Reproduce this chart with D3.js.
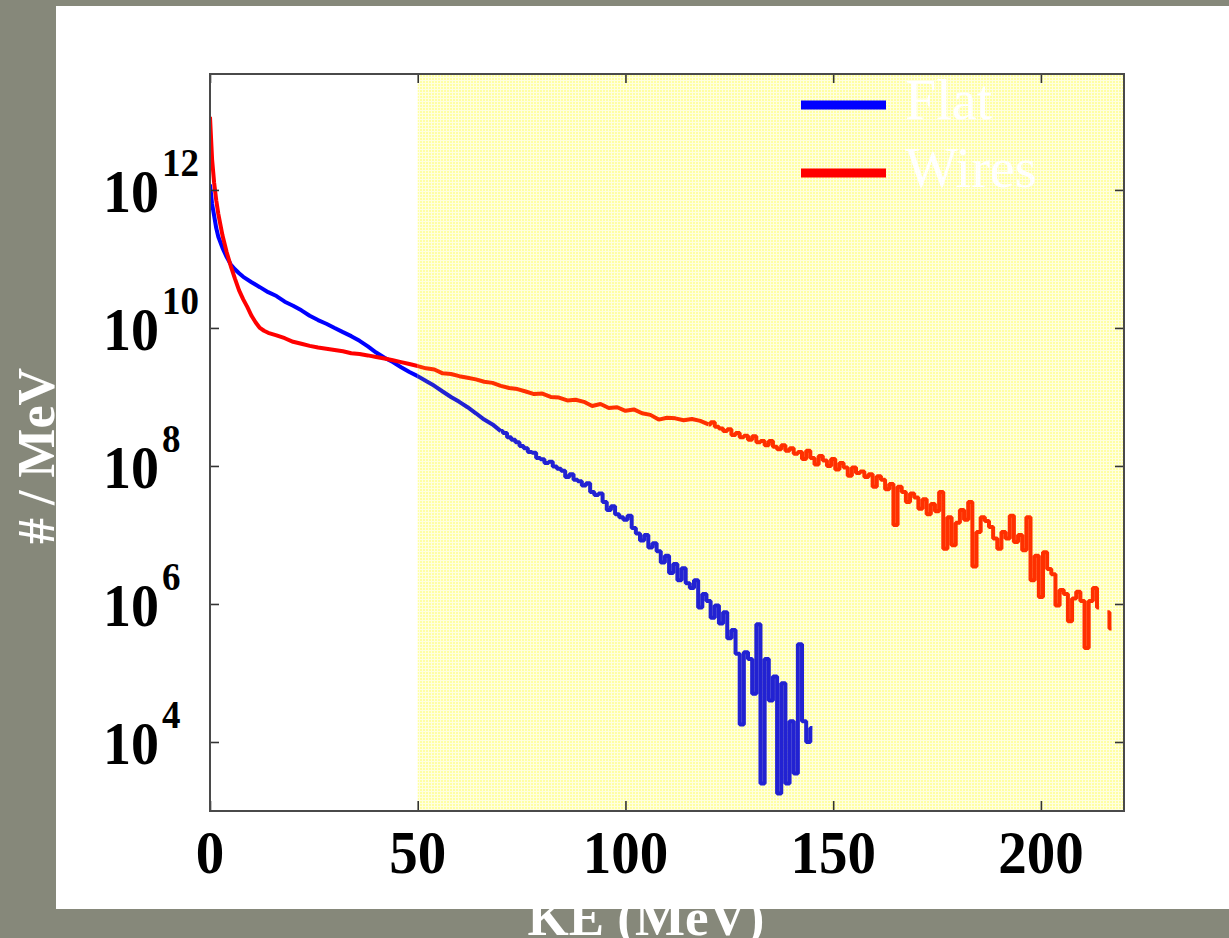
<!DOCTYPE html>
<html>
<head>
<meta charset="utf-8">
<script src="https://cdn.jsdelivr.net/npm/d3@7"></script>
<style>
  body { margin: 0; background: #86887a; }
  svg { display: block; }
</style>
</head>
<body>
<svg id="chart" width="1229" height="938"></svg>
<script>
// Proton spectra (# / MeV) versus kinetic energy for two target types
const flatKE = [0, 0.5, 1, 1.5, 2, 3, 4, 5, 6, 7, 8, 10, 12, 14, 16, 18, 20, 22, 24, 26, 28, 30, 32, 34, 36, 38, 40, 42, 44, 46, 48, 50, 52, 54, 56, 58, 60, 62, 64, 66, 68, 70,
  71, 72, 73, 74, 75, 76, 77, 78, 79, 80, 81, 82, 83, 84, 85, 86, 87, 88, 89, 90, 91, 92, 93, 94, 95, 96, 97, 98, 99, 100,
  101, 102, 103, 104, 105, 106, 107, 108, 109, 110, 111, 112, 113, 114, 115, 116, 117, 118, 119, 120,
  121, 122, 123, 124, 125, 126, 127, 128, 129, 130, 131, 132, 133, 134, 135, 136, 137, 138, 139, 140, 141, 142, 143, 144, 145];
const flatCounts = [1.2e12, 6.3e11, 4.2e11, 2.8e11, 2.1e11, 1.45e11, 1.07e11, 8.3e10, 7.1e10, 6.2e10, 5.5e10, 4.6e10, 3.9e10, 3.3e10, 2.9e10, 2.4e10, 2.1e10, 1.8e10, 1.5e10, 1.3e10, 1.15e10, 1.0e10, 8.7e9, 7.6e9, 6.5e9, 5.4e9, 4.4e9, 3.7e9, 3.2e9, 2.7e9, 2.3e9, 2.0e9, 1.7e9, 1.45e9, 1.2e9, 1.0e9, 8.5e8, 7.1e8, 5.8e8, 4.7e8, 4.0e8, 3.2e8,
  3.0e8, 2.6e8, 2.4e8, 2.2e8, 1.95e8, 1.8e8, 1.6e8, 1.55e8, 1.3e8, 1.25e8, 1.1e8, 1.15e8, 9.8e7, 9.1e7, 8.5e7, 6.9e7, 7.6e7, 6.3e7, 6.0e7, 5.2e7, 5.6e7, 4.2e7, 3.8e7, 4.0e7, 3.0e7, 2.3e7, 2.6e7, 2.0e7, 1.8e7, 1.66e7,
  1.9e7, 1.26e7, 1.05e7, 8.3e6, 1.0e7, 6.6e6, 7.6e6, 5.8e6, 4.0e6, 5.0e6, 2.8e6, 3.8e6, 2.2e6, 3.3e6, 2.0e6, 1.7e6, 2.2e6, 8.9e5, 1.4e6, 1.1e6,
  6.3e5, 9.5e5, 5.2e5, 7.6e5, 3.2e5, 4.2e5, 1.9e5, 1.8e4, 2.0e5, 1.6e5, 5.0e4, 5.1e5, 2.5e3, 1.6e5, 4.0e4, 8.9e4, 1.8e3, 7.1e4, 2.5e3, 2.0e4, 3.5e3, 2.6e5, 2.0e4, 1.0e4, 1.6e4];

const wiresKE = [0, 0.5, 1, 1.5, 2, 3, 4, 5, 6, 7, 8, 9, 10, 11, 12, 13, 14, 16, 18, 20, 22, 24, 26, 28, 30, 32, 34, 36, 38, 40, 42, 44, 46, 48, 50,
  52, 54, 56, 58, 60, 62, 64, 66, 68, 70, 72, 74, 76, 78, 80, 82, 84, 86, 88, 90, 92, 94, 96, 98, 100, 102, 104, 106, 108, 110, 112, 114, 116, 118, 120,
  121, 122, 123, 124, 125, 126, 127, 128, 129, 130, 131, 132, 133, 134, 135, 136, 137, 138, 139, 140, 141, 142, 143, 144, 145, 146, 147, 148, 149, 150,
  151, 152, 153, 154, 155, 156, 157, 158, 159, 160, 161, 162, 163, 164, 165, 166, 167, 168, 169, 170, 171, 172, 173, 174, 175, 176, 177, 178, 179, 180,
  181, 182, 183, 184, 185, 186, 187, 188, 189, 190, 191, 192, 193, 194, 195, 196, 197, 198, 199, 200, 201, 202, 203, 204, 205, 206, 207, 208, 209, 210,
  211, 212, 213, 214, 215, 216, 217];
const wiresCounts = [1.15e13, 2.8e12, 1.26e12, 7.1e11, 4.5e11, 2.2e11, 1.26e11, 7.9e10, 5.2e10, 3.5e10, 2.6e10, 2.0e10, 1.5e10, 1.2e10, 1.0e10, 9.1e9, 8.5e9, 7.8e9, 7.1e9, 6.3e9, 5.9e9, 5.5e9, 5.2e9, 5.0e9, 4.8e9, 4.6e9, 4.3e9, 4.2e9, 4.0e9, 3.8e9, 3.6e9, 3.4e9, 3.2e9, 3.0e9, 2.8e9,
  2.6e9, 2.5e9, 2.2e9, 2.15e9, 2.0e9, 1.9e9, 1.8e9, 1.66e9, 1.6e9, 1.45e9, 1.35e9, 1.3e9, 1.2e9, 1.1e9, 1.12e9, 1.0e9, 9.8e8, 8.9e8, 9.1e8, 8.5e8, 7.4e8, 7.9e8, 6.9e8, 7.1e8, 6.3e8, 6.6e8, 5.8e8, 5.5e8, 4.7e8, 5.0e8, 4.9e8, 4.6e8, 4.8e8, 4.5e8, 4.0e8,
  4.3e8, 3.7e8, 3.5e8, 3.2e8, 3.4e8, 2.8e8, 3.0e8, 2.6e8, 2.75e8, 2.4e8, 2.7e8, 2.2e8, 2.3e8, 2.0e8, 2.3e8, 1.9e8, 1.74e8, 2.0e8, 1.66e8, 1.8e8, 1.5e8, 1.6e8, 1.26e8, 1.66e8, 1.3e8, 1.05e8, 1.4e8, 1.2e8, 1.0e8, 1.26e8,
  8.9e7, 1.1e8, 9.5e7, 7.2e7, 9.5e7, 7.9e7, 8.3e7, 6.9e7, 7.6e7, 5.0e7, 7.1e7, 6.3e7, 4.6e7, 5.5e7, 1.4e7, 5.0e7, 4.2e7, 3.0e7, 4.0e7, 3.5e7, 2.4e7, 3.3e7, 2.0e7, 2.8e7, 2.2e7, 4.2e7, 6.3e6, 1.8e7, 7.1e6, 1.5e7,
  2.3e7, 1.66e7, 3.0e7, 3.5e6, 1.1e7, 1.8e7, 1.6e7, 1.3e7, 8.9e6, 6.3e6, 1.1e7, 8.9e6, 1.9e7, 7.9e6, 1.0e7, 6.0e6, 1.8e7, 2.2e6, 5.0e6, 1.26e6, 5.6e6, 3.2e6, 2.7e6, 9.5e5, 1.6e6, 1.4e6, 5.6e5, 1.2e6, 1.5e6, 1.1e6,
  2.3e5, 1.1e6, 1.7e6, 8.9e5, null, 7.6e5, 4.4e5];

const xTicks = [0, 50, 100, 150, 200];
const yTickExponents = [4, 6, 8, 10, 12];
const seriesNames = ["Flat", "Wires"];
const highlightFrom = 50; // shaded energy window starts here

const W = 1229, H = 938;
const plot = { left: 210, right: 1124, top: 74, bottom: 811 };
const serif = "'Liberation Serif', 'Times New Roman', Times, serif";

const x = d3.scaleLinear().domain([0, 220]).range([plot.left, plot.right]);
const y = d3.scaleLog().domain([1e3, Math.pow(10, 13.68)]).range([plot.bottom, plot.top]);

const svg = d3.select("#chart");
const defs = svg.append("defs");

// fine yellow mesh used for the shaded window
const pat = defs.append("pattern").attr("id", "mesh")
  .attr("patternUnits", "userSpaceOnUse").attr("width", 3).attr("height", 3);
pat.append("rect").attr("width", 3).attr("height", 3).attr("fill", "#ffffe0");
pat.append("rect").attr("width", 2).attr("height", 2).attr("fill", "#ffffa4");

defs.append("clipPath").attr("id", "clipPlain").append("rect")
  .attr("x", plot.left).attr("y", plot.top)
  .attr("width", x(highlightFrom) - plot.left).attr("height", plot.bottom - plot.top);
defs.append("clipPath").attr("id", "clipShaded").append("rect")
  .attr("x", x(highlightFrom)).attr("y", plot.top)
  .attr("width", plot.right - x(highlightFrom)).attr("height", plot.bottom - plot.top);

// grey backdrop
svg.append("rect").attr("width", W).attr("height", H).attr("fill", "#86887a");

// axis titles live on the grey frame, partly tucked under the white card
svg.append("text")
  .attr("transform", "translate(54,456) rotate(-90)")
  .attr("text-anchor", "middle")
  .attr("font-family", serif).attr("font-weight", "bold").attr("font-size", 52)
  .attr("fill", "#ffffff")
  .text("# / MeV");
svg.append("text")
  .attr("x", 646).attr("y", 935)
  .attr("text-anchor", "middle")
  .attr("font-family", serif).attr("font-weight", "bold").attr("font-size", 53)
  .attr("fill", "#ffffff")
  .text("KE (MeV)");

// white card
svg.append("rect").attr("x", 56).attr("y", 6).attr("width", W - 56).attr("height", 903).attr("fill", "#ffffff");

// shaded window
svg.append("rect")
  .attr("x", x(highlightFrom)).attr("y", plot.top)
  .attr("width", plot.right - x(highlightFrom)).attr("height", plot.bottom - plot.top)
  .attr("fill", "url(#mesh)");

// spectra: the smooth bulk is joined linearly, the sparse 1-MeV tail as a histogram
const series = [
  { name: seriesNames[0], ke: flatKE, counts: flatCounts, tailFrom: 70, color: "#0000ff", shaded: "#2222d2" },
  { name: seriesNames[1], ke: wiresKE, counts: wiresCounts, tailFrom: 120, color: "#ff0000", shaded: "#ff3000" }
];
const bulkLine = d3.line()
  .defined(d => d[1] != null)
  .x(d => x(d[0])).y(d => y(d[1]))
  .curve(d3.curveLinear);
const tailLine = d3.line()
  .defined(d => d[1] != null)
  .x(d => x(d[0])).y(d => y(d[1]))
  .curve(d3.curveStep);

series.forEach(s => {
  const pts = s.ke.map((k, i) => [k, s.counts[i]]);
  const bulk = pts.filter(p => p[0] <= s.tailFrom);
  const tail = pts.filter(p => p[0] >= s.tailFrom);
  [["clipPlain", s.color], ["clipShaded", s.shaded]].forEach(([clip, col]) => {
    [[bulk, bulkLine], [tail, tailLine]].forEach(([data, gen]) => {
      svg.append("path")
        .datum(data)
        .attr("clip-path", `url(#${clip})`)
        .attr("fill", "none")
        .attr("stroke", col)
        .attr("stroke-width", 4)
        .attr("stroke-linejoin", "bevel")
        .attr("d", gen);
    });
  });
});

// frame and inward ticks
const yTickVals = yTickExponents.map(e => Math.pow(10, e));
const tickStyle = g => {
  g.select(".domain").remove();
  g.selectAll(".tick line").attr("stroke", "#333").attr("stroke-width", 1.6);
  g.selectAll(".tick text").remove();
};
svg.append("g").attr("transform", `translate(0,${plot.bottom})`)
  .call(d3.axisBottom(x).tickValues(xTicks).tickSize(-10)).call(tickStyle);
svg.append("g").attr("transform", `translate(0,${plot.top})`)
  .call(d3.axisTop(x).tickValues(xTicks).tickSize(-9)).call(tickStyle);
svg.append("g").attr("transform", `translate(${plot.left},0)`)
  .call(d3.axisLeft(y).tickValues(yTickVals).tickSize(-9)).call(tickStyle);
svg.append("g").attr("transform", `translate(${plot.right},0)`)
  .call(d3.axisRight(y).tickValues(yTickVals).tickSize(-9)).call(tickStyle);

svg.append("rect")
  .attr("x", plot.left).attr("y", plot.top)
  .attr("width", plot.right - plot.left).attr("height", plot.bottom - plot.top)
  .attr("fill", "none").attr("stroke", "#4a4a4a").attr("stroke-width", 2);

// tick labels
const xLab = svg.append("g");
xTicks.forEach(t => {
  xLab.append("text")
    .attr("transform", `translate(${x(t)},873) scale(1,1.09)`)
    .attr("text-anchor", "middle")
    .attr("font-family", serif).attr("font-weight", "bold").attr("font-size", 57)
    .attr("fill", "#000")
    .text(t);
});
const yLab = svg.append("g");
yTickExponents.forEach(e => {
  const py = y(Math.pow(10, e));
  yLab.append("text")
    .attr("transform", `translate(159,${py + 22}) scale(1,1.09)`)
    .attr("text-anchor", "end")
    .attr("font-family", serif).attr("font-weight", "bold").attr("font-size", 56)
    .attr("fill", "#000")
    .text("10");
  yLab.append("text")
    .attr("transform", `translate(162,${py - 14}) scale(1,1.06)`)
    .attr("text-anchor", "start")
    .attr("font-family", serif).attr("font-weight", "bold").attr("font-size", 37)
    .attr("fill", "#000")
    .text(e);
});

// legend
const legend = svg.append("g");
series.forEach((s, i) => {
  const ly = 105 + i * 68;
  legend.append("line")
    .attr("x1", 801).attr("x2", 886).attr("y1", ly).attr("y2", ly)
    .attr("stroke", s.color).attr("stroke-width", 9);
  legend.append("text")
    .attr("x", 905).attr("y", ly + 14)
    .attr("font-family", serif).attr("font-size", 56)
    .attr("fill", "#ffffff")
    .text(s.name);
});
</script>
</body>
</html>
